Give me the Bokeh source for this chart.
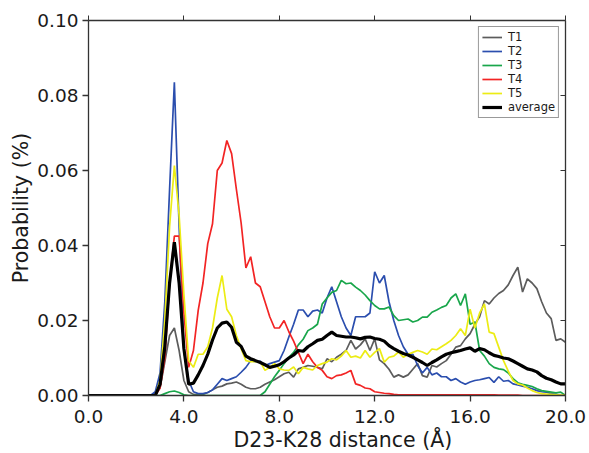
from bokeh.plotting import figure
from bokeh.models import LinearAxis, FixedTicker, Range1d, CustomLabelingPolicy, Title
from bokeh.embed import file_html
from bokeh.resources import INLINE

distance = [0.0, 0.2, 0.4, 0.6, 0.8, 1.0, 1.2, 1.4, 1.6, 1.8,
            2.0, 2.2, 2.4, 2.6, 2.8, 3.0, 3.2, 3.4, 3.6, 3.8,
            4.0, 4.2, 4.4, 4.6, 4.8, 5.0, 5.2, 5.4, 5.6, 5.8,
            6.0, 6.2, 6.4, 6.6, 6.8, 7.0, 7.2, 7.4, 7.6, 7.8,
            8.0, 8.2, 8.4, 8.6, 8.8, 9.0, 9.2, 9.4, 9.6, 9.8,
            10.0, 10.2, 10.4, 10.6, 10.8, 11.0, 11.2, 11.4, 11.6, 11.8,
            12.0, 12.2, 12.4, 12.6, 12.8, 13.0, 13.2, 13.4, 13.6, 13.8,
            14.0, 14.2, 14.4, 14.6, 14.8, 15.0, 15.2, 15.4, 15.6, 15.8,
            16.0, 16.2, 16.4, 16.6, 16.8, 17.0, 17.2, 17.4, 17.6, 17.8,
            18.0, 18.2, 18.4, 18.6, 18.8, 19.0, 19.2, 19.4, 19.6, 19.8,
            20.0]

t1 = [0, 0, 0, 0, 0, 0, 0, 0, 0, 0,
      0, 0, 0, 0, 0.0003, 0.002, 0.009, 0.016, 0.018, 0.012,
      0.004, 0.001, 0.0003, 0.0002, 0.0003, 0.0008, 0.0015, 0.0022, 0.0025, 0.0031,
      0.0033, 0.0036, 0.003, 0.0022, 0.0018, 0.0018, 0.0022, 0.003, 0.0036, 0.0042,
      0.005, 0.0058, 0.0062, 0.0049, 0.0071, 0.0075, 0.008, 0.0078, 0.0075, 0.0071,
      0.0098, 0.009, 0.0102, 0.011, 0.012, 0.0147, 0.0124, 0.0135, 0.0151, 0.012,
      0.0151, 0.0095, 0.0085, 0.007, 0.0049, 0.0055, 0.0049, 0.0055, 0.007, 0.0085,
      0.0053, 0.0049, 0.008, 0.0076, 0.0085, 0.0093, 0.011, 0.0129, 0.0133, 0.0151,
      0.0165, 0.019, 0.021, 0.0253, 0.0244, 0.026, 0.0272, 0.028, 0.0295, 0.032,
      0.0342, 0.0276, 0.0311, 0.030, 0.0285, 0.025, 0.022, 0.0205, 0.0147, 0.0151,
      0.0142]

t2 = [0, 0, 0, 0, 0, 0, 0, 0, 0, 0,
      0, 0, 0, 0, 0.001, 0.006, 0.025, 0.055, 0.0835, 0.045,
      0.012, 0.004, 0.001, 0.0005, 0.0005, 0.0008, 0.0015, 0.003, 0.0045, 0.004,
      0.0045, 0.005, 0.0062, 0.0075, 0.0093, 0.009, 0.0092, 0.008, 0.0085, 0.0089,
      0.0093, 0.012, 0.0156, 0.019, 0.0228, 0.0228, 0.021, 0.0225, 0.0228, 0.022,
      0.026, 0.029, 0.025, 0.021, 0.018, 0.016, 0.021, 0.021, 0.021, 0.022,
      0.033, 0.030, 0.032, 0.025, 0.020, 0.016, 0.013, 0.011, 0.011, 0.008,
      0.006, 0.0075, 0.0055, 0.006, 0.005, 0.005, 0.004, 0.0045, 0.0036, 0.003,
      0.0036, 0.004, 0.0042, 0.0045, 0.0048, 0.0035, 0.005, 0.0038, 0.004, 0.0031,
      0.0028, 0.0025, 0.0022, 0.0018, 0.0013, 0.001, 0.0009, 0.0005, 0.0003, 0.0,
      0.0]

t3 = [0, 0, 0, 0, 0, 0, 0, 0, 0, 0,
      0, 0, 0, 0, 0, 0, 0.0005, 0.001, 0.0012, 0.0008,
      0.0002, 0, 0, 0, 0, 0, 0, 0, 0, 0,
      0, 0, 0, 0, 0, 0, 0, 0.001, 0.003, 0.005,
      0.0067, 0.0085, 0.0102, 0.0115, 0.0135, 0.015, 0.0173, 0.018, 0.019, 0.0244,
      0.026, 0.0275, 0.028, 0.0307, 0.0298, 0.030, 0.0289, 0.028, 0.0268, 0.0253,
      0.024, 0.0231, 0.0231, 0.0236, 0.0213, 0.020, 0.0202, 0.0204, 0.0196, 0.020,
      0.0209, 0.0209, 0.0222, 0.0228, 0.0235, 0.024, 0.026, 0.0271, 0.024, 0.0271,
      0.019, 0.0196, 0.012, 0.0105, 0.0085, 0.0075, 0.0071, 0.0069, 0.006, 0.0045,
      0.0034, 0.003, 0.0027, 0.0024, 0.0018, 0.0013, 0.0011, 0.0009, 0.0007, 0.0009,
      0.0]

t4 = [0, 0, 0, 0, 0, 0, 0, 0, 0, 0,
      0, 0, 0, 0, 0, 0.002, 0.01, 0.03, 0.0425, 0.0425,
      0.022, 0.0075, 0.012, 0.0227, 0.030, 0.0405, 0.0458, 0.060, 0.062, 0.068,
      0.0645, 0.055, 0.046, 0.034, 0.037, 0.030, 0.029, 0.025, 0.021, 0.018,
      0.018, 0.020, 0.017, 0.0145, 0.0115, 0.0085, 0.011, 0.009, 0.0075, 0.0067,
      0.005, 0.0045, 0.0053, 0.0055, 0.006, 0.0067, 0.0031, 0.0027, 0.002, 0.0018,
      0.001, 0.0008, 0.0006, 0.0005, 0.0003, 0.0002, 0.0002, 0.0002, 0.0002, 0.0002,
      0.0002, 0.0002, 0.0002, 0.0002, 0.0002, 0.0002, 0.0002, 0.0002, 0.0002, 0.0002,
      0.0002, 0.0002, 0.0002, 0.0002, 0.0002, 0.0002, 0.0001, 0.0001, 0.0001, 0.0001,
      0.0001, 0, 0, 0, 0, 0, 0, 0, 0, 0,
      0]

t5 = [0, 0, 0, 0, 0, 0, 0, 0, 0, 0,
      0, 0, 0, 0, 0, 0.004, 0.02, 0.045, 0.0613, 0.048,
      0.027, 0.0093, 0.0075, 0.011, 0.011, 0.013, 0.018, 0.026, 0.032, 0.023,
      0.021, 0.016, 0.0125, 0.0093, 0.009, 0.009, 0.009, 0.0067, 0.0075, 0.0085,
      0.0071, 0.0068, 0.0067, 0.0076, 0.0058, 0.0075, 0.0071, 0.0068, 0.008, 0.0085,
      0.0089, 0.0098, 0.0095, 0.0105, 0.012, 0.0102, 0.0105, 0.010, 0.012, 0.0102,
      0.0115, 0.0125, 0.0089, 0.0102, 0.0105, 0.0116, 0.0102, 0.011, 0.0115, 0.012,
      0.0116, 0.011, 0.0124, 0.0122, 0.013, 0.0138, 0.0147, 0.016, 0.0178, 0.016,
      0.023, 0.018, 0.022, 0.0244, 0.0169, 0.0165, 0.0129, 0.0093, 0.0065, 0.004,
      0.0031, 0.0028, 0.002, 0.0013, 0.0008, 0.0005, 0.0004, 0.0003, 0.0002, 0.0001,
      0.0]

average = [0, 0, 0, 0, 0, 0, 0, 0, 0, 0,
           0, 0, 0, 0, 0, 0.003, 0.013, 0.03, 0.0409, 0.030,
           0.0125, 0.003, 0.0033, 0.0055, 0.008, 0.011, 0.0148, 0.018, 0.0193, 0.0196,
           0.0182, 0.0142, 0.0131, 0.0105, 0.0098, 0.0093, 0.0088, 0.0082, 0.0075, 0.0078,
           0.0082, 0.009, 0.010, 0.0108, 0.012, 0.0118, 0.013, 0.0138, 0.0147, 0.015,
           0.016, 0.0169, 0.016, 0.0158, 0.0156, 0.0156, 0.0154, 0.0151, 0.0155, 0.0156,
           0.0152, 0.015, 0.0145, 0.0133, 0.0125, 0.0118, 0.0112, 0.0108, 0.0102, 0.0095,
           0.0088, 0.008, 0.0088, 0.0095, 0.0103, 0.011, 0.0114, 0.0117, 0.012, 0.0124,
           0.0127, 0.0118, 0.0125, 0.0122, 0.0114, 0.0107, 0.0104, 0.010, 0.0098, 0.0092,
           0.0085, 0.0078, 0.0071, 0.0068, 0.0063, 0.0053, 0.0046, 0.0042, 0.0036, 0.0031,
           0.0031]

series_names = ["T1", "T2", "T3", "T4", "T5", "average"]
series_colors = ["#5c5c5c", "#2b4eae", "#19a64b", "#f22424", "#ecec14", "#000000"]

x_ticks = [0, 4, 8, 12, 16, 20]
x_tick_labels = ["0.0", "4.0", "8.0", "12.0", "16.0", "20.0"]
y_ticks = [0, 0.02, 0.04, 0.06, 0.08, 0.1]
y_tick_labels = ["0.00", "0.02", "0.04", "0.06", "0.08", "0.10"]
x_title = "D23-K28 distance (Å)"
y_title = "Probability (%)"

FONT = "DejaVu Sans"
AX = "#333333"
TXT = "#1a1a1a"

p = figure(width=589, height=453, output_backend="svg", toolbar_location=None,
           x_range=Range1d(0, 20), y_range=Range1d(0, 0.1),
           min_border_left=88, min_border_right=23, min_border_top=20,
           min_border_bottom=58)
p.xgrid.visible = False
p.ygrid.visible = False
p.outline_line_color = None
p.background_fill_color = "white"
p.border_fill_color = "white"

for ax, ticks, labels in ((p.xaxis[0], x_ticks, x_tick_labels), (p.yaxis[0], y_ticks, y_tick_labels)):
    ax.ticker = FixedTicker(ticks=ticks)
    ax.major_label_overrides = dict(zip(ticks, labels))
    ax.major_tick_out = 6
    ax.major_tick_in = 0
    ax.minor_tick_out = 0
    ax.minor_tick_in = 0
    ax.axis_line_color = AX
    ax.axis_line_width = 1.3
    ax.major_tick_line_color = AX
    ax.major_tick_line_width = 1.3
    ax.major_label_text_font = FONT
    ax.major_label_text_font_size = "18.5px"
    ax.major_label_text_color = TXT
    ax.axis_label_text_font = FONT
    ax.axis_label_text_font_size = "20.5px"
    ax.axis_label_text_font_style = "normal"
    ax.axis_label_text_color = TXT

p.yaxis.axis_label = y_title
p.xaxis.major_label_standoff = 8
p.yaxis.major_label_standoff = 4
p.yaxis.axis_label_standoff = 1

xt = Title(text=x_title, align="left", offset=145, standoff=2,
           text_font=FONT, text_font_size="20.5px", text_font_style="normal",
           text_color=TXT, vertical_align="middle")
p.add_layout(xt, "below")

no_labels = CustomLabelingPolicy(code="""
for (const i of indices) { indices.unset(i) }
return indices
""")

top = LinearAxis(ticker=FixedTicker(ticks=x_ticks), major_label_policy=no_labels,
                 major_label_standoff=0, major_tick_out=5, major_tick_in=0,
                 minor_tick_out=0, minor_tick_in=0, axis_line_color=AX,
                 axis_line_width=1.3, major_tick_line_color=AX)
p.add_layout(top, "above")
right = LinearAxis(ticker=FixedTicker(ticks=y_ticks), major_label_policy=no_labels,
                   major_label_standoff=0, major_tick_out=0, major_tick_in=5,
                   minor_tick_out=0, minor_tick_in=0, axis_line_color=AX,
                   axis_line_width=1.3, major_tick_line_color=AX)
p.add_layout(right, "right")

all_series = [t1, t2, t3, t4, t5, average]
for name, color, ys in zip(series_names, series_colors, all_series):
    lw = 3.2 if name == "average" else 1.7
    p.line(distance, ys, line_color=color, line_width=lw, legend_label=name)

lg = p.legend[0]
lg.location = "top_right"
lg.margin = 6
lg.padding = 3
lg.spacing = 0
lg.glyph_width = 20
lg.glyph_height = 12
lg.label_height = 12
lg.label_standoff = 6
lg.label_text_font = FONT
lg.label_text_font_size = "11.5px"
lg.label_text_color = TXT
lg.border_line_color = AX
lg.border_line_width = 1.2
lg.background_fill_alpha = 1.0

open("out.html", "w").write(file_html(p, INLINE))
